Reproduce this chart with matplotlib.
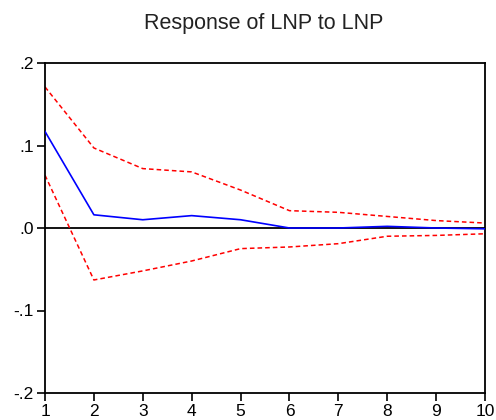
import matplotlib
matplotlib.use('Agg')
import numpy as np
import matplotlib.pyplot as plt

plt.rcParams['font.family'] = ['Liberation Sans', 'DejaVu Sans']

# impulse response of LNP to LNP, periods 1..10
periods = [1, 2, 3, 4, 5, 6, 7, 8, 9, 10]
response = [0.117, 0.016, 0.010, 0.015, 0.010, 0.000, 0.000, 0.002, 0.000, -0.001]
upper = [0.171, 0.097, 0.072, 0.068, 0.046, 0.021, 0.019, 0.014, 0.009, 0.006]
lower = [0.064, -0.063, -0.052, -0.040, -0.025, -0.023, -0.019, -0.010, -0.009, -0.007]

yticks = [-0.2, -0.1, 0.0, 0.1, 0.2]
ytick_labels = ['-.2', '-.1', '.0', '.1', '.2']

fig = plt.figure(figsize=(4.96, 4.2), dpi=100)
ax = fig.add_axes([45/496, 1 - 393/420, 440/496, 330/420])

ax.axhline(0, color='black', lw=1.3, zorder=1)
ax.plot(periods, response, color='#0000ff', lw=1.2, zorder=3)
ax.plot(periods, upper, color='#ff0000', lw=1.1, ls=(0, (3, 2)), zorder=2)
ax.plot(periods, lower, color='#ff0000', lw=1.1, ls=(0, (3, 2)), zorder=2)

ax.set_xlim(1, 10)
ax.set_ylim(-0.2, 0.2)
ax.set_xticks(periods)
ax.set_yticks(yticks)
ax.set_yticklabels(ytick_labels)
ax.tick_params(direction='out', length=6, width=1.2, labelsize=12.5, pad=2, colors='black')
for s in ax.spines.values():
    s.set_linewidth(1.3)

fig.text(264/496, 1 - 23/420, 'Response of LNP to LNP', ha='center', va='center',
         fontsize=15.5, color='#222222')

fig.savefig('out.png', dpi=100)
